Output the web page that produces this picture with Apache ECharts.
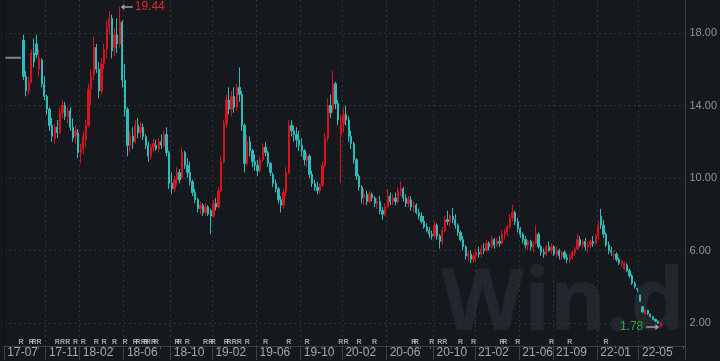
<!DOCTYPE html>
<html><head><meta charset="utf-8">
<script src="https://cdn.jsdelivr.net/npm/echarts@6/dist/echarts.min.js"></script>
<style>html,body{margin:0;padding:0;background:#15191e}#c{width:720px;height:361px}</style>
</head><body><div id="c"></div>
<script>
// weekly categories (Monday of each trading week), weeks fully closed for holidays skipped
const firstWeek = '2017-07-03';
const closedWeeks = ['2017-10-02','2018-10-01','2019-02-04','2019-09-30','2020-01-27','2020-10-05','2021-10-04','2022-01-31'];
const weekCount = 262;

const tickWeeks = ['2017-07-03','2017-10-30','2018-01-29','2018-05-28','2018-10-08','2019-01-28','2019-06-03','2019-10-07','2020-02-03','2020-06-01','2020-10-12','2021-02-01','2021-05-31','2021-08-30','2022-01-03','2022-05-02'];
const tickLabels = ['17-07','17-11','18-02','18-06','18-10','19-02','19-06','19-10','20-02','20-06','20-10','21-02','21-06','21-09','22-01','22-05'];

const yTicks = [2, 6, 10, 14, 18];

// trading halted at the start: flat price
const halted = [16.64,16.64,16.64,16.64,16.64,16.64,16.64];

const opens = [null,null,null,null,null,null,null,
17.6,15.6,14.8,15.3,16.9,17.4,16.0,16.5,15.2,14.5,13.8,12.9,12.2,12.8,12.5,13.6,14.0,13.4,13.7,12.8,12.3,12.5,11.4,11.6,
12.1,12.9,14.9,15.7,17.2,16.0,14.8,16.3,17.1,18.3,18.8,17.2,17.9,17.4,18.6,15.4,13.8,11.8,12.3,12.0,12.9,12.5,12.8,12.3,
11.8,11.2,11.7,11.8,11.6,12.0,11.8,12.4,11.4,9.7,9.4,9.9,10.3,10.0,11.4,10.7,10.3,9.8,9.2,8.8,8.3,8.5,8.1,8.4,8.2,7.9,
8.6,8.4,9.3,10.9,13.0,14.3,13.8,14.5,13.9,15.0,14.6,12.9,10.8,12.0,11.5,10.9,10.7,10.4,11.0,11.7,11.4,10.8,10.2,9.7,9.4,
8.8,8.5,9.2,10.3,12.9,12.6,12.4,12.1,11.8,11.5,11.0,11.2,10.2,9.7,9.5,9.3,9.6,10.7,12.2,14.0,13.8,15.2,14.1,12.4,13.0,
13.5,13.2,12.3,11.9,11.0,10.1,9.5,8.9,9.1,8.7,9.1,8.9,8.6,8.7,8.2,8.0,8.4,9.0,8.7,8.9,8.7,9.3,9.4,8.9,8.6,8.8,8.4,8.5,
8.1,7.9,7.6,7.3,7.1,6.9,6.8,7.4,6.8,6.5,7.1,7.7,7.6,7.9,7.7,7.4,7.0,6.6,6.2,5.7,5.8,5.5,5.7,5.9,5.8,6.1,6.0,6.4,6.2,6.6,
6.3,6.5,6.4,6.9,7.0,7.3,7.8,8.1,7.6,7.2,6.9,6.6,6.3,6.5,6.2,6.4,6.9,6.2,5.9,5.8,6.2,6.0,6.2,5.8,6.0,5.7,5.9,5.6,5.5,5.6,
5.9,6.1,6.6,6.3,6.5,6.2,6.3,6.5,6.4,6.8,7.9,7.4,6.9,6.3,6.0,5.7,5.8,5.5,5.3,5.0,5.2,4.9,4.6,4.2,3.9,3.55,2.9,2.5,2.7,2.5,
2.35,2.2,2.1,1.85];
const highs = [null,null,null,null,null,null,null,
17.9,15.9,15.6,17.1,17.7,17.9,17.1,16.6,15.6,14.6,13.9,13.3,13.0,13.2,13.9,14.3,14.2,13.9,13.9,13.3,12.9,12.7,11.9,12.6,
13.2,15.2,16.0,17.8,17.4,16.4,16.6,17.4,18.7,19.2,19.0,18.3,18.8,19.44,18.7,16.3,13.9,12.6,12.8,13.2,13.3,13.1,13.0,12.4,
12.0,11.9,12.2,12.1,12.2,12.4,12.6,12.8,11.5,10.3,10.1,10.6,10.5,11.7,11.5,11.1,10.9,9.9,9.4,8.9,8.7,8.6,8.6,8.5,8.3,8.8,
8.9,9.5,11.2,13.2,14.6,15.0,14.8,15.0,15.2,16.1,14.8,13.0,12.4,12.3,11.6,11.3,11.0,11.2,11.9,12.0,11.5,10.9,10.3,9.9,9.5,
9.0,9.4,10.6,13.2,13.2,12.9,12.8,12.6,12.2,11.6,11.4,11.3,10.4,9.9,9.8,9.7,10.9,12.5,14.4,14.6,15.9,15.3,14.3,13.5,13.9,
14.0,13.4,12.6,12.0,11.1,10.2,9.6,9.4,9.3,9.3,9.2,9.0,8.9,9.0,8.4,8.6,9.4,9.2,9.1,9.2,9.5,9.8,9.5,9.1,9.0,9.0,8.7,8.6,
8.3,8.1,7.9,7.5,7.3,7.1,7.6,7.5,6.9,7.3,7.9,8.2,8.0,8.35,8.0,7.5,7.1,6.8,6.3,6.0,6.0,5.9,6.1,6.2,6.3,6.4,6.6,6.5,6.8,6.7,
6.7,6.8,7.1,7.2,7.4,8.0,8.5,8.2,7.8,7.3,7.0,6.8,6.6,6.6,6.5,7.4,7.0,6.3,6.1,6.3,6.5,6.4,6.3,6.2,6.1,6.0,6.0,5.8,5.8,6.0,
6.2,6.9,6.8,6.6,6.7,6.5,6.6,6.8,6.9,7.6,8.3,7.7,7.0,6.5,6.2,6.0,5.9,5.6,5.5,5.4,5.3,5.0,4.7,4.3,3.95,3.55,2.9,2.75,2.72,2.5,
2.4,2.25,2.12,2.05];
const lows = [null,null,null,null,null,null,null,
15.4,14.5,14.6,15.2,16.1,16.6,15.6,15.0,14.3,13.5,12.6,12.0,11.9,12.2,12.4,13.3,13.2,13.0,12.6,12.0,11.9,11.1,10.8,11.3,
11.7,12.8,14.0,15.4,15.8,14.4,14.6,16.0,16.6,17.9,16.6,16.7,16.9,17.2,15.0,13.4,11.2,11.4,11.6,11.9,12.2,12.2,12.1,11.6,
10.9,11.0,11.4,11.5,11.4,11.6,11.7,11.2,9.4,9.1,9.2,9.6,9.7,9.9,10.5,10.0,9.6,9.0,8.6,8.1,8.0,7.9,7.9,7.9,6.9,7.8,
8.2,8.3,9.2,10.8,12.8,13.5,13.4,13.6,13.7,14.2,12.6,10.3,10.7,11.2,10.6,10.4,10.1,10.3,10.9,11.2,10.6,10.1,9.5,9.2,8.6,
8.1,8.3,9.0,10.2,12.3,12.0,11.7,11.5,11.2,10.7,10.6,10.0,9.5,9.3,9.1,9.1,9.5,10.6,12.0,13.3,13.6,13.8,12.9,9.7,12.5,
12.9,12.0,11.6,10.8,9.9,9.3,8.6,8.5,8.5,8.6,8.7,8.4,8.3,8.0,7.7,7.9,8.3,8.5,8.5,8.5,8.6,9.0,8.7,8.4,8.4,8.2,8.1,8.0,
7.7,7.5,7.2,7.0,6.7,6.6,6.7,6.6,6.1,6.3,7.0,7.4,7.3,7.5,7.2,6.8,6.5,6.0,5.5,5.4,5.3,5.3,5.4,5.6,5.6,5.8,5.9,6.0,6.1,6.1,
6.2,6.2,6.3,6.6,6.8,7.2,7.6,7.4,7.0,6.7,6.4,6.1,6.0,6.0,5.9,6.3,6.1,5.7,5.6,5.7,5.9,5.8,5.7,5.6,5.5,5.5,5.5,5.3,5.3,5.5,
5.7,6.0,6.2,6.1,6.0,5.9,6.1,6.2,6.3,6.6,7.2,6.7,6.2,5.8,5.7,5.5,5.4,5.2,5.1,4.9,4.8,4.5,4.1,3.9,3.7,3.2,2.6,2.45,2.45,2.3,
2.15,2.05,1.95,1.78];
const closes = [null,null,null,null,null,null,null,
15.6,14.8,15.3,16.9,16.4,16.8,16.6,15.2,14.5,13.8,12.9,12.3,12.8,12.5,13.6,14.0,13.4,13.7,12.8,12.2,12.6,11.4,11.6,12.3,
12.9,14.9,15.6,17.2,16.0,14.8,16.3,17.1,18.3,18.8,17.0,17.9,17.4,18.6,15.4,13.8,11.8,12.3,12.0,12.9,12.5,12.8,12.3,11.8,
11.2,11.7,11.9,11.6,12.0,11.8,12.4,11.4,9.7,9.4,9.9,10.3,9.9,11.4,10.7,10.3,9.8,9.2,8.8,8.3,8.5,8.1,8.4,8.0,7.9,8.6,
8.4,9.3,10.9,13.0,14.3,13.8,14.5,13.9,15.0,14.6,12.9,10.8,12.0,11.5,10.9,10.7,10.4,11.0,11.7,11.4,10.8,10.3,9.7,9.4,8.8,
8.5,9.2,10.3,12.9,12.6,12.4,12.1,11.8,11.5,11.0,11.2,10.2,9.7,9.5,9.3,9.6,10.7,12.2,14.0,13.6,15.2,14.1,13.2,13.0,13.5,
13.2,12.3,11.9,11.0,10.1,9.5,8.9,9.1,8.7,9.1,8.9,8.6,8.7,8.2,8.0,8.4,9.0,8.7,8.9,8.7,9.3,9.4,8.9,8.6,8.8,8.4,8.5,8.1,
7.9,7.6,7.3,7.1,6.9,6.8,7.4,6.8,6.5,7.1,7.7,7.6,7.9,7.7,7.4,7.0,6.6,6.2,5.7,5.8,5.5,5.7,5.9,5.8,6.1,6.0,6.4,6.2,6.6,6.3,
6.5,6.4,6.9,7.0,7.3,7.8,8.1,7.6,7.2,6.9,6.6,6.3,6.5,6.2,6.4,6.9,6.2,5.9,5.8,6.2,6.0,6.2,5.8,6.0,5.7,5.9,5.6,5.5,5.6,5.9,
6.1,6.6,6.3,6.5,6.2,6.3,6.5,6.4,6.8,7.4,7.4,6.9,6.3,6.0,5.9,5.8,5.5,5.3,5.4,5.3,4.9,4.6,4.2,4.0,3.85,3.2,2.6,2.7,2.5,2.35,
2.2,2.1,2.0,1.98];

// research-report "R" markers along the bottom (category indices)
const reportWeeks = [6,10,11,13,20,22,24,27,30,35,38,42,46,50,51,53,54,55,57,58,66,67,70,77,79,80,85,86,88,90,93,100,109,116,129,131,136,142,157,158,164,167,169,175,180,191,192,197,210,217,231];
const reportLevel = 0.95;

// ---- build ----
const categories = [];
{
  const d = new Date(firstWeek + 'T00:00:00Z');
  while (categories.length < weekCount) {
    const s = d.toISOString().slice(0, 10);
    if (!closedWeeks.includes(s)) categories.push(s);
    d.setUTCDate(d.getUTCDate() + 7);
  }
}
const labelAt = {};
tickWeeks.forEach((w, k) => { const i = categories.indexOf(w); if (i >= 0) labelAt[i] = tickLabels[k]; });
const monthStart = new Set();
{
  let prev = null;
  categories.forEach((c, i) => {
    const f = new Date(c + 'T00:00:00Z'); f.setUTCDate(f.getUTCDate() + 4);
    const m = f.getUTCMonth();
    if (prev !== null && m !== prev) monthStart.add(i);
    prev = m;
  });
}
const isLabel = (i) => labelAt[i] !== undefined;
const ohlc = opens.map((o, i) => o == null ? '-' : [o, closes[i], lows[i], highs[i]]);
const haltLine = categories.map((c, i) => i < halted.length ? halted[i] : '-');
const reportData = reportWeeks.map(i => [i, reportLevel]);

const UP = '#d9121c', DOWN = '#2bbcbc';
const YMIN = 0.731, YMAX = 19.82;

const chart = echarts.init(document.getElementById('c'), null, {renderer: 'canvas'});
chart.setOption({
  animation: false,
  backgroundColor: '#15191e',
  textStyle: {fontFamily: '"Liberation Sans", Arial, sans-serif'},
  grid: {left: 4, right: 32, top: 0, bottom: 15},
  graphic: [{
    type: 'text', z: -10, left: 441, top: 262, silent: true,
    style: {text: 'Win.d', font: 'bold 86px "Noto Sans"', fill: '#23262c'}
  }],
  xAxis: [{
    type: 'category', data: categories, boundaryGap: true,
    axisLine: {show: true, lineStyle: {color: '#3a3e45'}},
    axisTick: {show: true, interval: (i) => monthStart.has(i), length: 3, lineStyle: {color: '#50545b'}},
    axisLabel: {show: false},
    splitLine: {show: true, interval: (i) => isLabel(i), lineStyle: {color: '#2f333a', type: [2, 3]}}
  }, {
    type: 'category', data: categories, boundaryGap: true, position: 'bottom',
    axisLine: {show: false},
    axisTick: {show: true, interval: (i) => isLabel(i), length: 14, lineStyle: {color: '#3e4249'}},
    axisLabel: {show: true, interval: (i) => isLabel(i), formatter: (v, i) => labelAt[i] || '',
      align: 'left', padding: [0, 0, 0, 2], margin: 1, color: '#a3a7ad', fontSize: 12},
    splitLine: {show: false}
  }],
  yAxis: [{
    type: 'value', position: 'right', min: YMIN, max: YMAX, scale: true,
    axisLine: {show: true, lineStyle: {color: '#3a3e45'}},
    axisTick: {show: false, customValues: yTicks},
    axisLabel: {customValues: yTicks, formatter: (v) => v.toFixed(2), color: '#8e9399', fontSize: 11, margin: 4},
    splitLine: {show: true, lineStyle: {color: '#2f333a', type: [2, 3]}}
  }, {
    type: 'value', position: 'left', min: YMIN, max: YMAX,
    axisLine: {show: true, lineStyle: {color: '#0b0d10', width: 1}},
    axisTick: {show: false}, axisLabel: {show: false}, splitLine: {show: false}
  }],
  series: [{
    type: 'line', data: haltLine, showSymbol: false, symbol: 'none',
    lineStyle: {color: '#80858c', width: 2}, z: 3
  }, {
    type: 'candlestick', data: ohlc, barWidth: '68%',
    itemStyle: {color: UP, color0: DOWN, borderColor: UP, borderColor0: DOWN, borderColorDoji: '#a0a4aa', borderWidth: 1},
    markPoint: {
      silent: true,
      data: [{
        type: 'max', valueDim: 'highest',
        symbol: 'path://M0,5 L6,1 L6,4 L20,4 L20,6 L6,6 L6,9 Z', symbolSize: [12, 6], symbolOffset: [7, 0],
        itemStyle: {color: '#9a9ea4'},
        label: {show: true, position: 'right', distance: 2, formatter: (p) => p.value.toFixed(2), color: '#e0262d', fontSize: 12}
      }, {
        type: 'min', valueDim: 'lowest',
        symbol: 'path://M20,5 L14,1 L14,4 L0,4 L0,6 L14,6 L14,9 Z', symbolSize: [13, 6], symbolOffset: [-8, 0],
        itemStyle: {color: '#9a9ea4'},
        label: {show: true, position: 'left', distance: 3, formatter: (p) => p.value.toFixed(2), color: '#27a845', fontSize: 12}
      }]
    }
  }, {
    type: 'scatter', data: reportData, symbolSize: 1, itemStyle: {color: 'rgba(0,0,0,0)'},
    label: {show: true, position: 'inside', formatter: 'R', fontSize: 7, fontWeight: 'bold', color: '#c4c8cd'},
    z: 4
  }]
});
</script></body></html>
